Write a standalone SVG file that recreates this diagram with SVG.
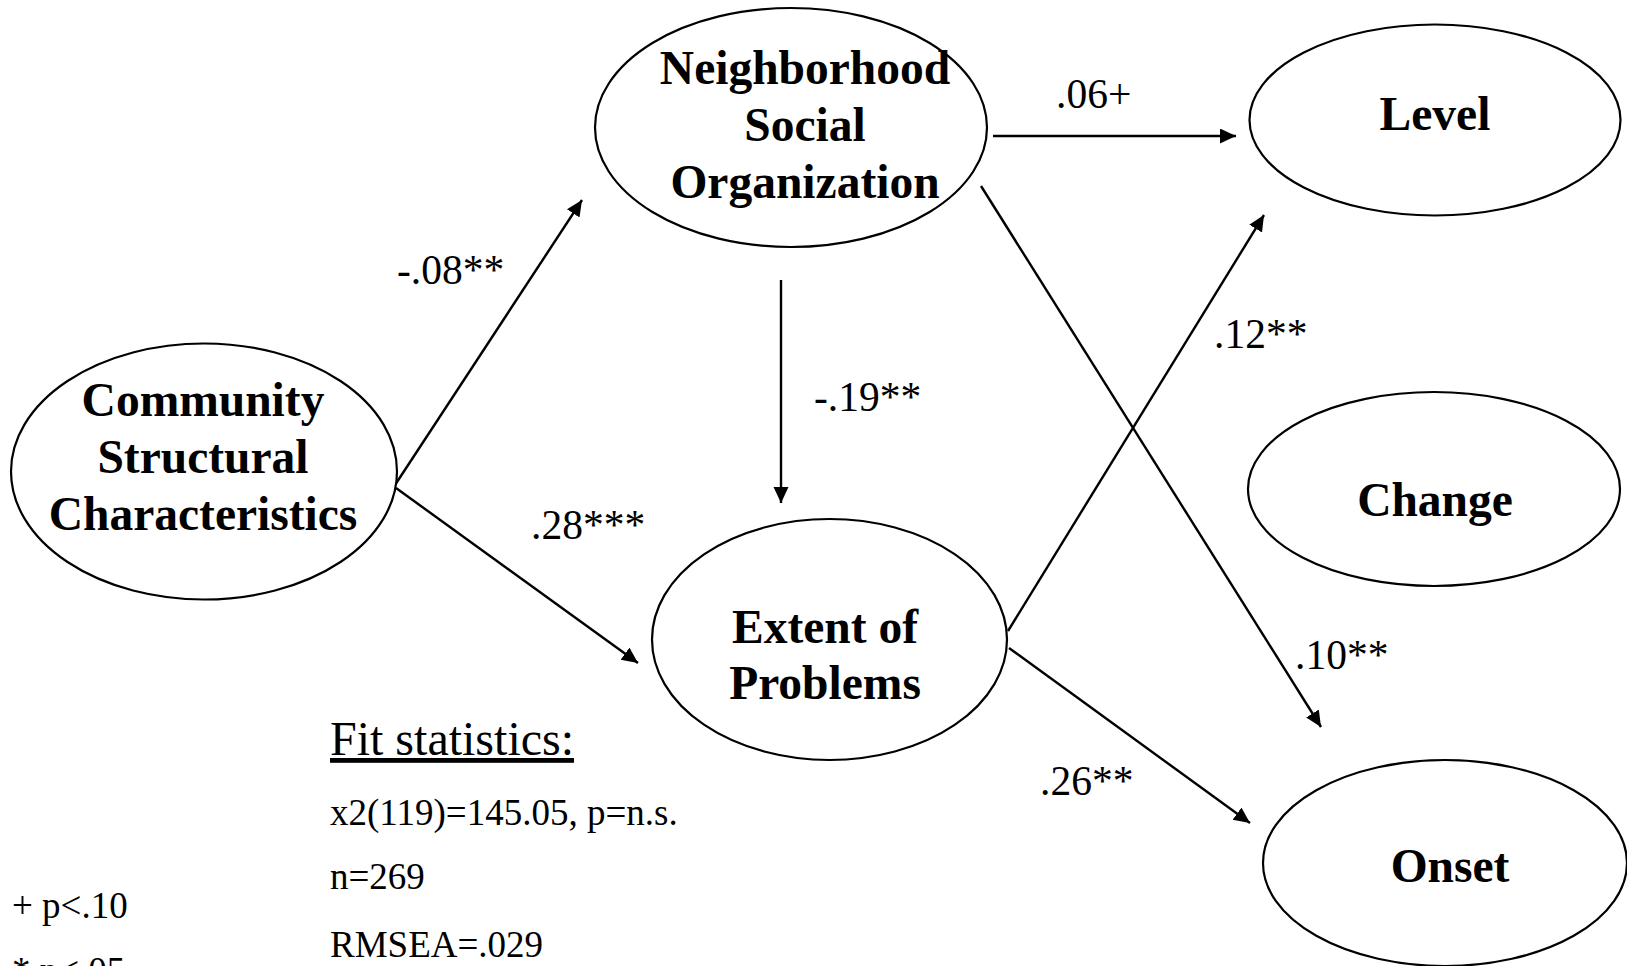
<svg xmlns="http://www.w3.org/2000/svg" width="1627" height="966" viewBox="0 0 1627 966">
  <style>
    .node { fill: #ffffff; stroke: #000000; stroke-width: 2.2; }
    .nlabel { font-family: "Liberation Serif", "Times New Roman", serif; font-weight: bold; font-size: 47.5px; fill: #000000; text-anchor: middle; }
    .edge { stroke: #000000; stroke-width: 2.4; fill: none; marker-end: url(#head); }
    .coef { font-family: "Liberation Serif", "Times New Roman", serif; font-size: 41.5px; fill: #000000; }
    .note { font-family: "Liberation Serif", "Times New Roman", serif; font-size: 37px; fill: #000000; }
  </style>
  <defs>
    <marker id="head" markerUnits="userSpaceOnUse" markerWidth="17" markerHeight="16" refX="16" refY="7.5" orient="auto">
      <path d="M0,0 L16,7.5 L0,15 z" fill="#000000"/>
    </marker>
  </defs>
  <rect x="0" y="0" width="1627" height="966" fill="#ffffff"/>

  <g id="connectors">
    <line class="edge" x1="395" y1="485" x2="582" y2="200"/>
    <line class="edge" x1="396" y1="488" x2="638" y2="663"/>
    <line class="edge" x1="781" y1="280" x2="781" y2="503"/>
    <line class="edge" x1="993" y1="136" x2="1236" y2="136"/>
    <line class="edge" x1="981" y1="186" x2="1321" y2="727"/>
    <line class="edge" x1="1008" y1="631" x2="1264" y2="215"/>
    <line class="edge" x1="1009" y1="648" x2="1250" y2="823"/>
  </g>

  <g id="community">
    <ellipse class="node" cx="204" cy="471.5" rx="193" ry="128"/>
    <text class="nlabel" x="203" y="416">Community</text>
    <text class="nlabel" x="203" y="473">Structural</text>
    <text class="nlabel" x="203" y="530">Characteristics</text>
  </g>

  <g id="neighborhood">
    <ellipse class="node" cx="791" cy="127.5" rx="196" ry="119.5"/>
    <text class="nlabel" x="805" y="84">Neighborhood</text>
    <text class="nlabel" x="805" y="141">Social</text>
    <text class="nlabel" x="805" y="198">Organization</text>
  </g>

  <g id="extent">
    <ellipse class="node" cx="829.5" cy="639.5" rx="177.5" ry="120.5"/>
    <text class="nlabel" x="825" y="643">Extent of</text>
    <text class="nlabel" x="825" y="699">Problems</text>
  </g>

  <g id="level">
    <ellipse class="node" cx="1435" cy="120" rx="185.5" ry="95.5"/>
    <text class="nlabel" x="1435" y="130">Level</text>
  </g>

  <g id="change">
    <ellipse class="node" cx="1434" cy="489" rx="186" ry="97"/>
    <text class="nlabel" x="1435" y="516">Change</text>
  </g>

  <g id="onset">
    <ellipse class="node" cx="1445" cy="863" rx="182" ry="103"/>
    <text class="nlabel" x="1450" y="882">Onset</text>
  </g>

  <g id="coefficients">
    <text class="coef" x="397" y="284">-.08**</text>
    <text class="coef" x="531" y="539">.28***</text>
    <text class="coef" x="814" y="411">-.19**</text>
    <text class="coef" x="1056" y="108">.06+</text>
    <text class="coef" x="1214" y="348">.12**</text>
    <text class="coef" x="1295" y="669">.10**</text>
    <text class="coef" x="1040" y="795">.26**</text>
  </g>

  <g id="fit-statistics">
    <text class="note" x="330" y="755" style="font-size:48px" text-decoration="underline">Fit statistics:</text>
    <text class="note" x="330" y="825">x2(119)=145.05, p=n.s.</text>
    <text class="note" x="330" y="889">n=269</text>
    <text class="note" x="330" y="957">RMSEA=.029</text>
  </g>

  <g id="legend">
    <text class="note" x="12" y="918">+ p&lt;.10</text>
    <text class="note" x="12" y="983">* p&lt;.05</text>
  </g>
</svg>
